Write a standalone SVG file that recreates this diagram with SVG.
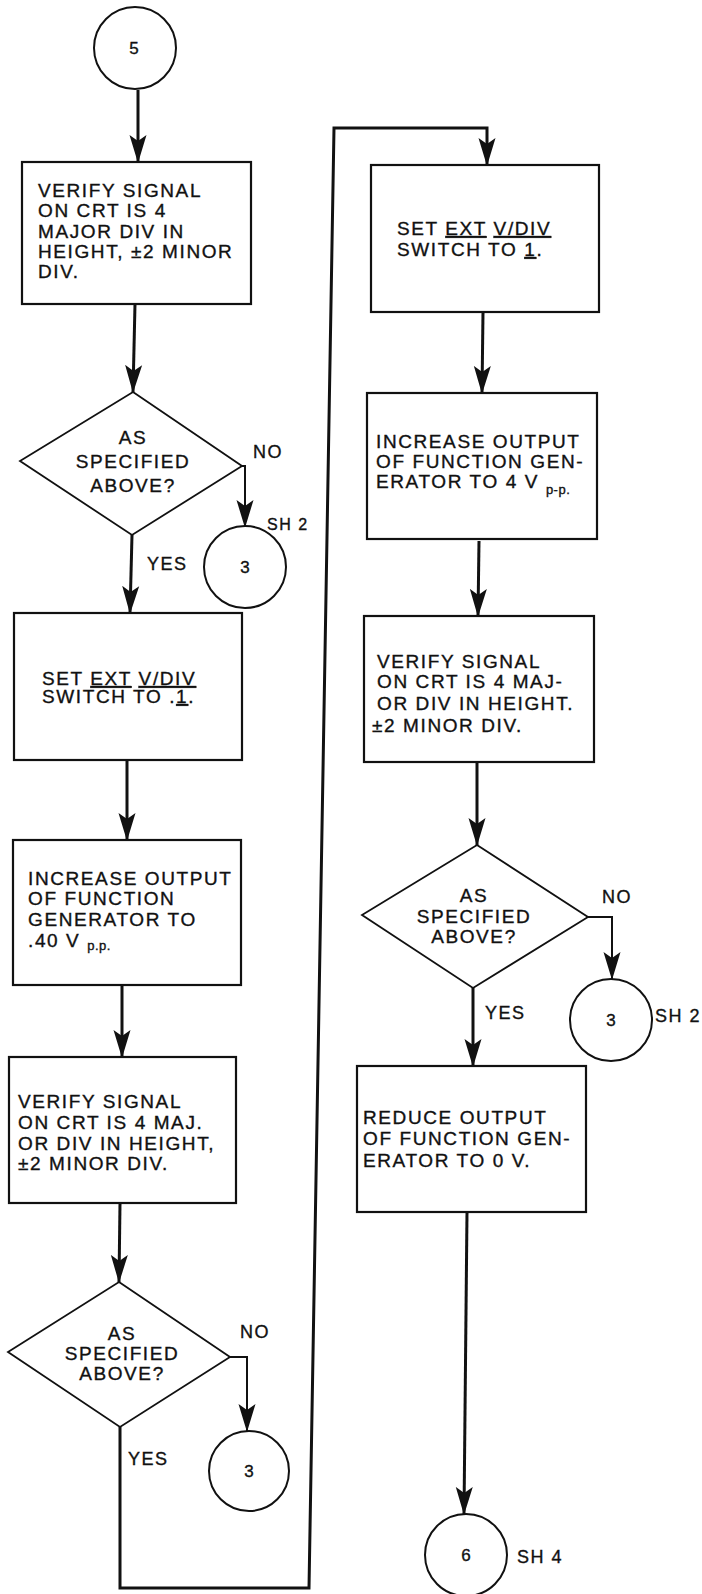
<svg xmlns="http://www.w3.org/2000/svg" width="702" height="1594" viewBox="0 0 702 1594">
<style>
.box{fill:#fff;stroke:#111;stroke-width:2.2}
.dia{fill:#fff;stroke:#111;stroke-width:1.8}
.cir{fill:#fff;stroke:#111;stroke-width:2}
.t{font-family:"Liberation Sans",Arial,Helvetica,sans-serif;font-size:19px;letter-spacing:1.6px;fill:#111;stroke:#111;stroke-width:0.35px}
.m{text-anchor:middle}
.lbl{font-size:18px;letter-spacing:1.5px}
.num{font-size:17px;letter-spacing:0}
.sub{font-size:13px;letter-spacing:0.5px}
.conn{fill:none;stroke:#111;stroke-width:3;stroke-linejoin:miter}
.thin{stroke-width:2}
</style>
<defs>
<marker id="ah" viewBox="0 0 28 18" refX="27" refY="9" markerWidth="28" markerHeight="18" orient="auto" markerUnits="userSpaceOnUse">
<path d="M0,0.5 L28,9 L0,17.5 L6,9 z" fill="#111"/>
</marker>
</defs>
<rect width="702" height="1594" fill="#fff"/>

<g id="connectors">
<path class="conn" d="M138,90 L138,162" marker-end="url(#ah)"/>
<path class="conn" d="M135,304 L133,392" marker-end="url(#ah)"/>
<path class="conn thin" d="M242,466 L245,466 L245,527" marker-end="url(#ah)"/>
<path class="conn" d="M132,535 L130,613" marker-end="url(#ah)"/>
<path class="conn" d="M127,760 L127,840" marker-end="url(#ah)"/>
<path class="conn" d="M122,985 L122,1057" marker-end="url(#ah)"/>
<path class="conn" d="M120,1203 L119,1282" marker-end="url(#ah)"/>
<path class="conn thin" d="M230,1357 L247,1357 L247,1431" marker-end="url(#ah)"/>
<path class="conn" d="M120,1427 L120,1588 L309,1588 L334,128 L487,128 L487,165" marker-end="url(#ah)"/>
<path class="conn" d="M483,312 L482,393" marker-end="url(#ah)"/>
<path class="conn" d="M479,541 L478,616" marker-end="url(#ah)"/>
<path class="conn" d="M477,762 L477,845" marker-end="url(#ah)"/>
<path class="conn thin" d="M588,917 L612,917 L612,979" marker-end="url(#ah)"/>
<path class="conn" d="M473,988 L473,1066" marker-end="url(#ah)"/>
<path class="conn" d="M467,1212 L464,1514" marker-end="url(#ah)"/>
</g>

<g id="start5">
<circle class="cir" cx="135" cy="48" r="41"/>
<text class="t num m" x="134" y="54">5</text>
</g>

<g id="verify1">
<rect class="box" x="22" y="162" width="229" height="142"/>
<text class="t" x="38" y="197">VERIFY SIGNAL</text>
<text class="t" x="38" y="217">ON CRT IS 4</text>
<text class="t" x="38" y="237.5">MAJOR DIV IN</text>
<text class="t" x="38" y="257.5">HEIGHT, ±2 MINOR</text>
<text class="t" x="38" y="278">DIV.</text>
</g>

<g id="decision1">
<polygon class="dia" points="133,392 242,466 132,535 20,461"/>
<text class="t m" x="133" y="444">AS</text>
<text class="t m" x="133" y="468">SPECIFIED</text>
<text class="t m" x="133" y="492">ABOVE?</text>
<text class="t lbl" x="253" y="458">NO</text>
<text class="t lbl" x="147" y="570">YES</text>
</g>

<g id="goto3a">
<circle class="cir" cx="245" cy="567" r="41"/>
<text class="t num m" x="245" y="573">3</text>
<text class="t lbl" x="267" y="530" style="font-size:16px">SH 2</text>
</g>

<g id="set1">
<rect class="box" x="14" y="613" width="228" height="147"/>
<text class="t" x="42" y="685">SET <tspan text-decoration="underline">EXT</tspan> <tspan text-decoration="underline">V/DIV</tspan></text>
<text class="t" x="42" y="703">SWITCH TO .<tspan text-decoration="underline">1</tspan>.</text>
</g>

<g id="increase1">
<rect class="box" x="13" y="840" width="228" height="145"/>
<text class="t" x="28" y="885">INCREASE OUTPUT</text>
<text class="t" x="28" y="905">OF FUNCTION</text>
<text class="t" x="28" y="926">GENERATOR TO</text>
<text class="t" x="28" y="947">.40 V <tspan class="sub" dy="3">p.p.</tspan></text>
</g>

<g id="verify2">
<rect class="box" x="9" y="1057" width="227" height="146"/>
<text class="t" x="18" y="1108">VERIFY SIGNAL</text>
<text class="t" x="18" y="1129">ON CRT IS 4 MAJ.</text>
<text class="t" x="18" y="1150">OR DIV IN HEIGHT,</text>
<text class="t" x="18" y="1170">±2 MINOR DIV.</text>
</g>

<g id="decision3">
<polygon class="dia" points="119,1282 230,1357 120,1427 8,1352"/>
<text class="t m" x="122" y="1340">AS</text>
<text class="t m" x="122" y="1360">SPECIFIED</text>
<text class="t m" x="122" y="1380">ABOVE?</text>
<text class="t lbl" x="240" y="1338">NO</text>
<text class="t lbl" x="128" y="1465">YES</text>
</g>

<g id="goto3b">
<circle class="cir" cx="249" cy="1471" r="40"/>
<text class="t num m" x="249" y="1477">3</text>
</g>

<g id="set2">
<rect class="box" x="371" y="165" width="228" height="147"/>
<text class="t" x="397" y="235">SET <tspan text-decoration="underline">EXT</tspan> <tspan text-decoration="underline">V/DIV</tspan></text>
<text class="t" x="397" y="256">SWITCH TO <tspan text-decoration="underline">1</tspan>.</text>
</g>

<g id="increase2">
<rect class="box" x="367" y="393" width="230" height="146"/>
<text class="t" x="376" y="448">INCREASE OUTPUT</text>
<text class="t" x="376" y="468">OF FUNCTION GEN-</text>
<text class="t" x="376" y="488">ERATOR TO 4 V <tspan class="sub" dy="6">p-p.</tspan></text>
</g>

<g id="verify3">
<rect class="box" x="364" y="616" width="230" height="146"/>
<text class="t" x="377" y="668">VERIFY SIGNAL</text>
<text class="t" x="377" y="688">ON CRT IS 4 MAJ-</text>
<text class="t" x="377" y="710">OR DIV IN HEIGHT.</text>
<text class="t" x="372" y="732">±2 MINOR DIV.</text>
</g>

<g id="decision2">
<polygon class="dia" points="477,845 588,917 473,988 362,915"/>
<text class="t m" x="474" y="902">AS</text>
<text class="t m" x="474" y="923">SPECIFIED</text>
<text class="t m" x="474" y="943">ABOVE?</text>
<text class="t lbl" x="602" y="903">NO</text>
<text class="t lbl" x="485" y="1019">YES</text>
</g>

<g id="goto3c">
<circle class="cir" cx="611" cy="1020" r="41"/>
<text class="t num m" x="611" y="1026">3</text>
<text class="t lbl" x="655" y="1022">SH 2</text>
</g>

<g id="reduce">
<rect class="box" x="357" y="1066" width="229" height="146"/>
<text class="t" x="363" y="1124">REDUCE OUTPUT</text>
<text class="t" x="363" y="1145">OF FUNCTION GEN-</text>
<text class="t" x="363" y="1167">ERATOR TO 0 V.</text>
</g>

<g id="goto6">
<circle class="cir" cx="466" cy="1555" r="41"/>
<text class="t num m" x="466" y="1561">6</text>
<text class="t lbl" x="517" y="1563">SH 4</text>
</g>
</svg>
